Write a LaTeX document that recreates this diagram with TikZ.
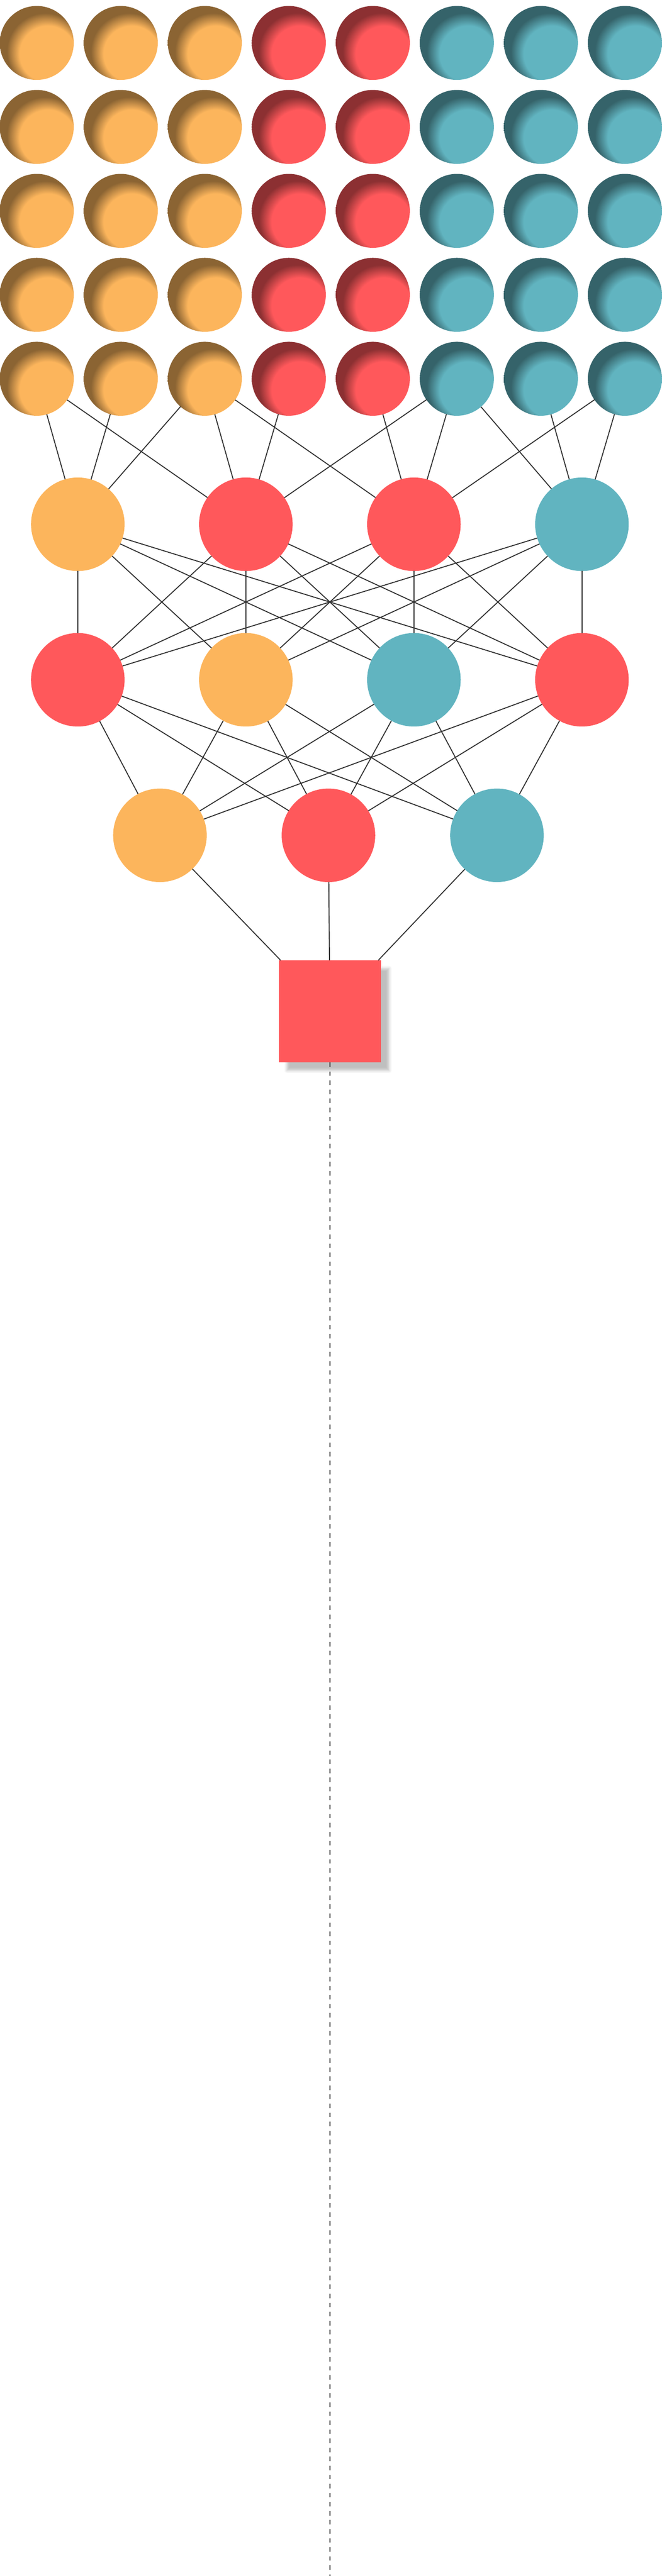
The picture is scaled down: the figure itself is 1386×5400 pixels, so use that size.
\documentclass[tikz,border=0pt]{standalone}
\usepackage{xcolor}
\usepackage{tikz}
\usetikzlibrary{shadows.blur}

\definecolor{sunorange}{RGB}{252,181,92}
\definecolor{coralred}{RGB}{255,88,91}
\definecolor{seateal}{RGB}{97,180,192}
\definecolor{wiregray}{RGB}{50,50,50}

% inner shadow look for the input balls
\pgfdeclareradialshading{insetorange}{\pgfpoint{12bp}{-12bp}}{color(0bp)=(sunorange); color(19bp)=(sunorange); color(26bp)=(sunorange!55!black); color(50bp)=(sunorange!55!black)}
\pgfdeclareradialshading{insetred}{\pgfpoint{12bp}{-12bp}}{color(0bp)=(coralred); color(19bp)=(coralred); color(26bp)=(coralred!55!black); color(50bp)=(coralred!55!black)}
\pgfdeclareradialshading{insetteal}{\pgfpoint{12bp}{-12bp}}{color(0bp)=(seateal); color(19bp)=(seateal); color(26bp)=(seateal!55!black); color(50bp)=(seateal!55!black)}

\begin{document}
\begin{tikzpicture}[x=0.2mm, y=-0.2mm,
    ball/.style={circle, inner sep=0pt, outer sep=0pt, minimum size=31mm, shade},
    unit/.style={circle, inner sep=0pt, outer sep=0pt, minimum size=39.2mm},
    wire/.style={draw=wiregray, line width=1.15pt},
    tail/.style={draw=wiregray, line width=1.6pt, dash pattern=on 5.4pt off 5.4pt}]
\useasboundingbox (0,0) rectangle (1386,5400);

% input grid
\node[ball, shading=insetorange] (t11) at (77, 90) {};
\node[ball, shading=insetorange] (t12) at (253, 90) {};
\node[ball, shading=insetorange] (t13) at (429, 90) {};
\node[ball, shading=insetred] (t14) at (605, 90) {};
\node[ball, shading=insetred] (t15) at (781, 90) {};
\node[ball, shading=insetteal] (t16) at (957, 90) {};
\node[ball, shading=insetteal] (t17) at (1133, 90) {};
\node[ball, shading=insetteal] (t18) at (1309, 90) {};

\node[ball, shading=insetorange] (t21) at (77, 266) {};
\node[ball, shading=insetorange] (t22) at (253, 266) {};
\node[ball, shading=insetorange] (t23) at (429, 266) {};
\node[ball, shading=insetred] (t24) at (605, 266) {};
\node[ball, shading=insetred] (t25) at (781, 266) {};
\node[ball, shading=insetteal] (t26) at (957, 266) {};
\node[ball, shading=insetteal] (t27) at (1133, 266) {};
\node[ball, shading=insetteal] (t28) at (1309, 266) {};

\node[ball, shading=insetorange] (t31) at (77, 442) {};
\node[ball, shading=insetorange] (t32) at (253, 442) {};
\node[ball, shading=insetorange] (t33) at (429, 442) {};
\node[ball, shading=insetred] (t34) at (605, 442) {};
\node[ball, shading=insetred] (t35) at (781, 442) {};
\node[ball, shading=insetteal] (t36) at (957, 442) {};
\node[ball, shading=insetteal] (t37) at (1133, 442) {};
\node[ball, shading=insetteal] (t38) at (1309, 442) {};

\node[ball, shading=insetorange] (t41) at (77, 618) {};
\node[ball, shading=insetorange] (t42) at (253, 618) {};
\node[ball, shading=insetorange] (t43) at (429, 618) {};
\node[ball, shading=insetred] (t44) at (605, 618) {};
\node[ball, shading=insetred] (t45) at (781, 618) {};
\node[ball, shading=insetteal] (t46) at (957, 618) {};
\node[ball, shading=insetteal] (t47) at (1133, 618) {};
\node[ball, shading=insetteal] (t48) at (1309, 618) {};

\node[ball, shading=insetorange] (t51) at (77, 794) {};
\node[ball, shading=insetorange] (t52) at (253, 794) {};
\node[ball, shading=insetorange] (t53) at (429, 794) {};
\node[ball, shading=insetred] (t54) at (605, 794) {};
\node[ball, shading=insetred] (t55) at (781, 794) {};
\node[ball, shading=insetteal] (t56) at (957, 794) {};
\node[ball, shading=insetteal] (t57) at (1133, 794) {};
\node[ball, shading=insetteal] (t58) at (1309, 794) {};

% hidden layers
\node[unit, fill=sunorange] (a1) at (163, 1099) {};
\node[unit, fill=coralred] (a2) at (515, 1099) {};
\node[unit, fill=coralred] (a3) at (867, 1099) {};
\node[unit, fill=seateal] (a4) at (1219, 1099) {};

\node[unit, fill=coralred] (b1) at (163, 1425) {};
\node[unit, fill=sunorange] (b2) at (515, 1425) {};
\node[unit, fill=seateal] (b3) at (867, 1425) {};
\node[unit, fill=coralred] (b4) at (1219, 1425) {};

\node[unit, fill=sunorange] (c1) at (335, 1751) {};
\node[unit, fill=coralred] (c2) at (688, 1751) {};
\node[unit, fill=seateal] (c3) at (1041, 1751) {};

\node[fill=coralred, inner sep=0pt, outer sep=0pt, minimum size=42.8mm,
    blur shadow={shadow xshift=3.4mm, shadow yshift=-3.4mm, shadow blur radius=1.2mm, shadow opacity=25}] (out) at (691, 2120) {};
\coordinate (bottom) at (691, 5400);

\draw[wire] (t51) -- (a1);
\draw[wire] (t51) -- (a2);
\draw[wire] (t52) -- (a1);
\draw[wire] (t53) -- (a1);
\draw[wire] (t53) -- (a2);
\draw[wire] (t53) -- (a3);
\draw[wire] (t54) -- (a2);
\draw[wire] (t55) -- (a3);
\draw[wire] (t56) -- (a2);
\draw[wire] (t56) -- (a3);
\draw[wire] (t56) -- (a4);
\draw[wire] (t57) -- (a4);
\draw[wire] (t58) -- (a3);
\draw[wire] (t58) -- (a4);

\draw[wire] (a1) -- (b1);
\draw[wire] (a1) -- (b2);
\draw[wire] (a1) -- (b3);
\draw[wire] (a1) -- (b4);
\draw[wire] (a2) -- (b1);
\draw[wire] (a2) -- (b2);
\draw[wire] (a2) -- (b3);
\draw[wire] (a2) -- (b4);
\draw[wire] (a3) -- (b1);
\draw[wire] (a3) -- (b2);
\draw[wire] (a3) -- (b3);
\draw[wire] (a3) -- (b4);
\draw[wire] (a4) -- (b1);
\draw[wire] (a4) -- (b2);
\draw[wire] (a4) -- (b3);
\draw[wire] (a4) -- (b4);

\draw[wire] (b1) -- (c1);
\draw[wire] (b1) -- (c2);
\draw[wire] (b1) -- (c3);
\draw[wire] (b2) -- (c1);
\draw[wire] (b2) -- (c2);
\draw[wire] (b2) -- (c3);
\draw[wire] (b3) -- (c1);
\draw[wire] (b3) -- (c2);
\draw[wire] (b3) -- (c3);
\draw[wire] (b4) -- (c1);
\draw[wire] (b4) -- (c2);
\draw[wire] (b4) -- (c3);

\draw[wire] (c1) -- (out);
\draw[wire] (c2) -- (out);
\draw[wire] (c3) -- (out);

\draw[tail] (out) -- (bottom);
\end{tikzpicture}
\end{document}
